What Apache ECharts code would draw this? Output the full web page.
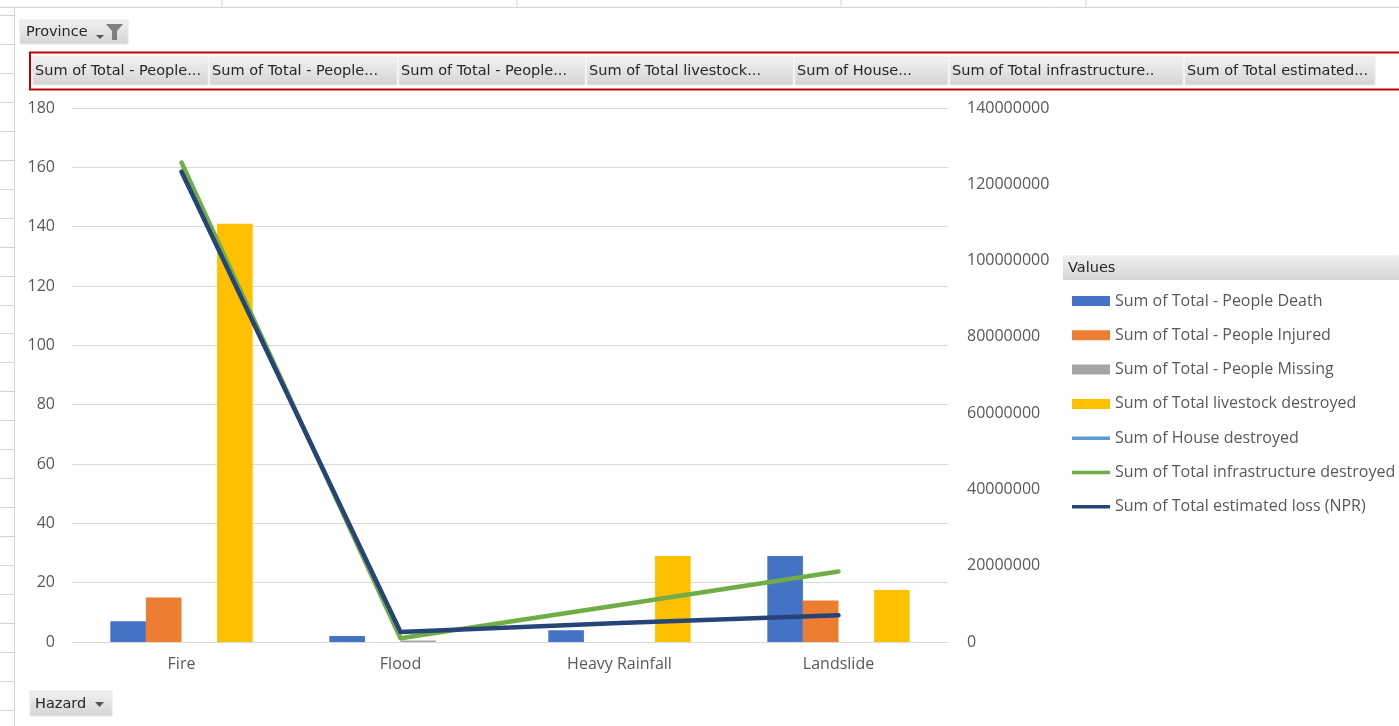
<!DOCTYPE html>
<html>
<head>
<meta charset="utf-8">
<script src="https://cdn.jsdelivr.net/npm/echarts@6/dist/echarts.min.js"></script>
<style>
html,body{margin:0;padding:0;background:#fff;}
#chart{width:1399px;height:726px;}
</style>
</head>
<body>
<div id="chart"></div>
<script>
var categories = ['Fire', 'Flood', 'Heavy Rainfall', 'Landslide'];
var peopleDeath = [7, 2, 4, 29];
var peopleInjured = [15, 0, 0, 14];
var peopleMissing = [0, 0.5, 0, 0];
var livestockDestroyed = [141, 0, 29, 17.5];
var houseDestroyed = [null, null, null, null];
var infrastructureDestroyed = [125700000, 1000000, 9700000, 18500000];
var estimatedLoss = [123300000, 2600000, 5000000, 7000000];
var leftTicks = [0, 180, 20];
var rightTicks = [0, 140000000, 20000000];
var fieldButtons = ['Sum of Total - People...', 'Sum of Total - People...', 'Sum of Total - People...', 'Sum of Total livestock...', 'Sum of House...', 'Sum of Total infrastructure..', 'Sum of Total estimated...'];

var FONT = 'Open Sans';
var BFONT = '14.5px "DejaVu Sans"';
var TXT = '#595959';
var chart = echarts.init(document.getElementById('chart'));

function btnGrad() {
  return new echarts.graphic.LinearGradient(0, 0, 0, 1, [
    {offset: 0, color: '#f2f2f2'}, {offset: 1, color: '#d4d4d4'}
  ]);
}

var graphics = [];
[222, 517, 841, 1086].forEach(function (x) {
  graphics.push({type: 'line', shape: {x1: x, y1: 0, x2: x, y2: 7}, style: {stroke: '#d4d4d4', lineWidth: 1}, silent: true});
});
graphics.push({type: 'line', shape: {x1: 0, y1: 7.5, x2: 1399, y2: 7.5}, style: {stroke: '#d4d4d4', lineWidth: 1}});
graphics.push({type: 'line', shape: {x1: 14.5, y1: 7, x2: 14.5, y2: 726}, style: {stroke: '#d4d4d4', lineWidth: 1}});
for (var i = 0; i < 25; i++) {
  var yy = Math.round(15 + i * 28.95) + 0.5;
  graphics.push({type: 'line', shape: {x1: 0, y1: yy, x2: 14, y2: yy}, style: {stroke: '#d4d4d4', lineWidth: 1}});
}
// Province button
graphics.push({type: 'rect', shape: {x: 20, y: 20, width: 108, height: 24}, style: {fill: btnGrad(), stroke: '#e6e6e6'}});
graphics.push({type: 'text', x: 26, y: 32.5, style: {text: 'Province', fill: '#262626', font: BFONT, verticalAlign: 'middle'}});
graphics.push({type: 'polygon', shape: {points: [[96, 35], [104, 35], [100, 39]]}, style: {fill: '#555'}});
graphics.push({type: 'polygon', shape: {points: [[106, 24], [123, 24], [117, 31], [117, 40], [112, 40], [112, 31]]}, style: {fill: '#7f7f7f'}});
// Field buttons row
var bx = [33, 210, 399, 587, 795, 950, 1185];
var bw = [175, 187, 186, 206, 153, 233, 190];
graphics.push({type: 'rect', shape: {x: 30, y: 52.5, width: 1380, height: 37}, style: {fill: '#fff', stroke: '#c00000', lineWidth: 2}});
for (var b = 0; b < fieldButtons.length; b++) {
  graphics.push({type: 'rect', shape: {x: bx[b], y: 57, width: bw[b], height: 28}, style: {fill: btnGrad(), stroke: '#e8e8e8'}});
  graphics.push({type: 'text', x: bx[b] + 2, y: 71.5, style: {text: fieldButtons[b], fill: '#262626', font: BFONT, verticalAlign: 'middle'}});
}
// Hazard button
graphics.push({type: 'rect', shape: {x: 30, y: 691, width: 82, height: 25}, style: {fill: btnGrad(), stroke: '#e6e6e6'}});
graphics.push({type: 'text', x: 35, y: 704.5, style: {text: 'Hazard', fill: '#262626', font: BFONT, verticalAlign: 'middle'}});
graphics.push({type: 'polygon', shape: {points: [[95, 702], [104, 702], [99.5, 707]]}, style: {fill: '#555'}});
// Values header
graphics.push({type: 'rect', shape: {x: 1063, y: 255, width: 340, height: 25}, style: {fill: new echarts.graphic.LinearGradient(0, 0, 0, 1, [{offset: 0, color: '#f0f0f0'}, {offset: 1, color: '#d6d6d6'}])}});
graphics.push({type: 'text', x: 1068, y: 268, style: {text: 'Values', fill: '#262626', font: BFONT, verticalAlign: 'middle'}});

function barSeries(name, data, color) {
  return {name: name, type: 'bar', data: data, yAxisIndex: 0, barGap: '0%', barCategoryGap: '35%',
    itemStyle: {color: color}, emphasis: {disabled: true}};
}
function lineSeries(name, data, color) {
  return {name: name, type: 'line', data: data, yAxisIndex: 1, symbol: 'none', z: 5,
    lineStyle: {color: color, width: 4.5, cap: 'round', join: 'round'}, itemStyle: {color: color}, emphasis: {disabled: true}};
}
var LINE_ICON = 'path://M0,0 L38,0 L38,3.5 L0,3.5 Z';

chart.setOption({
  animation: false,
  backgroundColor: '#fff',
  graphic: graphics,
  grid: {left: 72, right: 451, top: 108, bottom: 84, containLabel: false},
  legend: {
    orient: 'vertical', left: 1067, top: 288, itemGap: 18.3, itemWidth: 38, itemHeight: 10,
    textStyle: {color: TXT, fontFamily: FONT, fontSize: 16, padding: [0, 0, 0, 0]},
    data: [
      {name: 'Sum of Total - People Death', icon: 'rect'},
      {name: 'Sum of Total - People Injured', icon: 'rect'},
      {name: 'Sum of Total - People Missing', icon: 'rect'},
      {name: 'Sum of Total livestock destroyed', icon: 'rect'},
      {name: 'Sum of House destroyed', icon: LINE_ICON},
      {name: 'Sum of Total infrastructure destroyed', icon: LINE_ICON},
      {name: 'Sum of Total estimated loss (NPR)', icon: LINE_ICON}
    ]
  },
  xAxis: {
    type: 'category', data: categories,
    axisLine: {lineStyle: {color: '#d9d9d9', width: 1}}, axisTick: {show: false},
    axisLabel: {color: TXT, fontFamily: FONT, fontSize: 16, margin: 14}
  },
  yAxis: [
    {type: 'value', min: leftTicks[0], max: leftTicks[1], interval: leftTicks[2],
      axisLine: {show: false}, axisTick: {show: false},
      splitLine: {lineStyle: {color: '#d9d9d9', width: 1}},
      axisLabel: {color: TXT, fontFamily: FONT, fontSize: 16, margin: 17}},
    {type: 'value', min: rightTicks[0], max: rightTicks[1], interval: rightTicks[2],
      axisLine: {show: false}, axisTick: {show: false}, splitLine: {show: false},
      axisLabel: {color: TXT, fontFamily: FONT, fontSize: 16, margin: 19, formatter: function (v) { return String(v); }}}
  ],
  series: [
    barSeries('Sum of Total - People Death', peopleDeath, '#4472C4'),
    barSeries('Sum of Total - People Injured', peopleInjured, '#ED7D31'),
    barSeries('Sum of Total - People Missing', peopleMissing, '#A5A5A5'),
    barSeries('Sum of Total livestock destroyed', livestockDestroyed, '#FFC000'),
    lineSeries('Sum of House destroyed', houseDestroyed, '#5B9BD5'),
    lineSeries('Sum of Total infrastructure destroyed', infrastructureDestroyed, '#70AD47'),
    lineSeries('Sum of Total estimated loss (NPR)', estimatedLoss, '#264478')
  ]
});
</script>
</body>
</html>
